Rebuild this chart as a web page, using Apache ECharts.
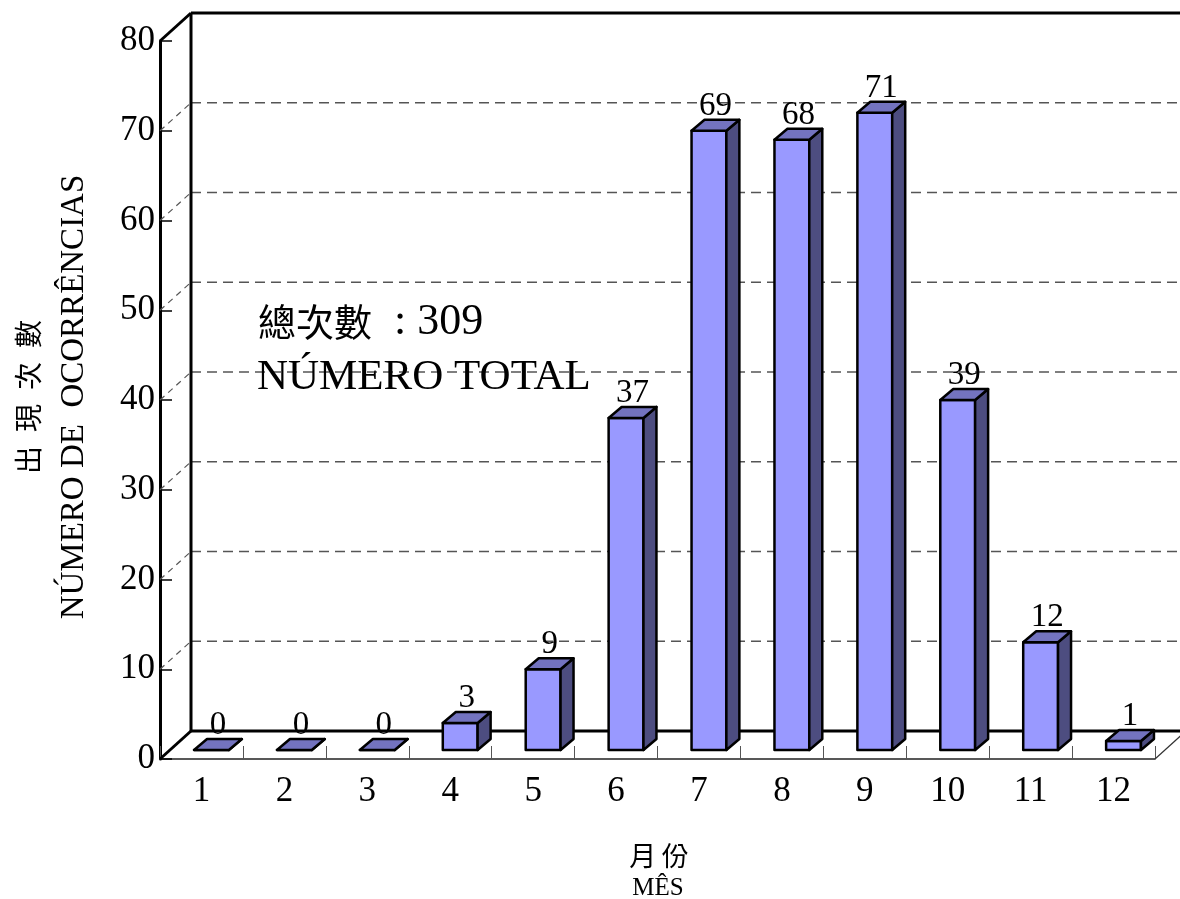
<!DOCTYPE html>
<html>
<head>
<meta charset="utf-8">
<style>
  html, body { margin: 0; padding: 0; background: #ffffff; }
  #chart { width: 1180px; height: 899px; }
</style>
<script src="https://cdn.jsdelivr.net/npm/echarts@6/dist/echarts.min.js"></script>
</head>
<body>
<div id="chart"></div>
<script>
// Monthly number of occurrences
const months = ['1', '2', '3', '4', '5', '6', '7', '8', '9', '10', '11', '12'];
const occurrences = [0, 0, 0, 3, 9, 37, 69, 68, 71, 39, 12, 1];
const gridTicks = [10, 20, 30, 40, 50, 60, 70];
const yMin = 0, yMax = 80, yStep = 10;
const totalCount = 309;

const SERIF = "'Liberation Serif', 'Times New Roman', 'Noto Sans CJK TC', serif";
const CJK = "'Noto Sans CJK TC', 'Noto Sans CJK SC', sans-serif";

// Pseudo-3D geometry (pixels): wall depth and bar placement inside it
const DEPTH = [31, -28];
const BAR_FRONT = [10, -9];
const BAR_DEPTH = [13, -11];

const FRONT = '#9999ff';
const TOP = '#7373bf';
const SIDE = '#4d4d80';

function line(x1, y1, x2, y2, style) {
  return { type: 'line', shape: { x1, y1, x2, y2 }, style: Object.assign({ fill: null }, style) };
}

// Back wall, side wall and floor of the box
function renderFrame(params, api) {
  const cs = params.coordSys;
  const x0 = cs.x, x1 = cs.x + cs.width;
  const [dx, dy] = DEPTH;
  const yAt = v => api.coord([0, v])[1];
  const children = [];
  const dash = { stroke: '#555', lineWidth: 1.5, lineDash: [10, 6] };
  const sideDash = { stroke: '#555', lineWidth: 1.2, lineDash: [6, 5] };
  const thick = { stroke: '#000', lineWidth: 3 };
  gridTicks.forEach(v => {
    const y = yAt(v);
    children.push(line(x0 + dx, y + dy, x1 + dx, y + dy, dash));
    children.push(line(x0, y, x0 + dx, y + dy, sideDash));
  });
  const y0 = yAt(yMin), yT = yAt(yMax);
  // back wall outline
  children.push(line(x0 + dx, yT + dy, x1 + dx, yT + dy, thick));
  children.push(line(x0 + dx, y0 + dy, x1 + dx, y0 + dy, thick));
  children.push(line(x0 + dx, yT + dy, x0 + dx, y0 + dy, thick));
  // side wall top edge and floor edges
  children.push(line(x0, yT, x0 + dx, yT + dy, thick));
  children.push(line(x0, y0, x0 + dx, y0 + dy, thick));
  children.push(line(x1, y0, x1 + dx, y0 + dy, { stroke: '#333', lineWidth: 1.2 }));
  return { type: 'group', children };
}

// One 3D bar per month with its value label
function renderBar(params, api) {
  const i = api.value(0), v = api.value(1);
  const base = api.coord([i, 0]);
  const top = api.coord([i, v]);
  const band = api.size([1, 0])[0];
  const w = band * 0.42;
  const [dx, dy] = BAR_DEPTH;
  const fx = base[0] + BAR_FRONT[0] - w / 2;
  const fy0 = base[1] + BAR_FRONT[1];
  const fy1 = top[1] + BAR_FRONT[1];
  const edge = { stroke: '#000', lineWidth: 2.5, lineJoin: 'round' };
  return {
    type: 'group',
    children: [
      { type: 'rect', shape: { x: fx, y: fy1, width: w, height: fy0 - fy1 },
        style: Object.assign({ fill: FRONT }, edge) },
      { type: 'polygon', shape: { points: [[fx + w, fy1], [fx + w + dx, fy1 + dy], [fx + w + dx, fy0 + dy], [fx + w, fy0]] },
        style: Object.assign({ fill: SIDE }, edge) },
      { type: 'polygon', shape: { points: [[fx, fy1], [fx + w, fy1], [fx + w + dx, fy1 + dy], [fx + dx, fy1 + dy]] },
        style: Object.assign({ fill: TOP }, edge) },
      { type: 'text', z2: 10,
        style: { text: String(v), x: fx + w / 2 + dx / 2, y: fy1 + dy + 3,
          align: 'center', verticalAlign: 'bottom',
          font: '33px ' + SERIF, fill: '#000' } }
    ]
  };
}

const chart = echarts.init(document.getElementById('chart'), null, { renderer: 'canvas' });

chart.setOption({
  backgroundColor: '#ffffff',
  animation: false,
  grid: { left: 160, top: 41, width: 995, height: 718 },
  xAxis: {
    type: 'category',
    data: months,
    axisLine: { show: true, lineStyle: { color: '#222', width: 1.5 } },
    axisTick: { show: true, inside: true, length: 13, lineStyle: { color: '#555', width: 1 } },
    axisLabel: { fontFamily: SERIF, fontSize: 35, color: '#000', margin: 15 },
    splitLine: { show: false }
  },
  yAxis: {
    type: 'value',
    min: yMin, max: yMax, interval: yStep,
    axisLine: { show: true, lineStyle: { color: '#000', width: 3 } },
    axisTick: { show: true, inside: true, length: 12, lineStyle: { color: '#000', width: 1.5 } },
    axisLabel: { fontFamily: SERIF, fontSize: 35, color: '#000', margin: 5 },
    splitLine: { show: false }
  },
  series: [
    { type: 'custom', name: 'frame', z: 1, silent: true, clip: false,
      data: [[0, 0]], renderItem: renderFrame },
    { type: 'custom', name: 'occurrences', z: 3, clip: false,
      data: occurrences.map((v, i) => [i, v]), renderItem: renderBar }
  ],
  graphic: [
    { type: 'text', left: 258, top: 300, z: 100,
      style: {
        text: '{c|總次數}{l|\u2002: ' + totalCount + '}',
        rich: {
          c: { font: '38px ' + CJK, fill: '#000' },
          l: { font: '44px ' + SERIF, fill: '#000' }
        }
      } },
    { type: 'text', left: 257, top: 356, z: 100,
      style: { text: 'NÚMERO TOTAL', font: '43px ' + SERIF, fill: '#000' } },
    { type: 'text', x: 28, y: 397, rotation: Math.PI / 2, z: 100,
      style: { text: '出\u2002現\u2002次\u2002數', font: '28px ' + CJK, fill: '#000', align: 'center', verticalAlign: 'middle' } },
    { type: 'text', x: 74, y: 397, rotation: Math.PI / 2, z: 100,
      style: { text: 'NÚMERO DE  OCORRÊNCIAS', font: '33px ' + SERIF, fill: '#000', align: 'center', verticalAlign: 'middle' } },
    { type: 'text', x: 659, y: 856, z: 100,
      style: { text: '月\u2009份', font: '27px ' + CJK, fill: '#000', align: 'center', verticalAlign: 'middle' } },
    { type: 'text', x: 658, y: 888, z: 100,
      style: { text: 'MÊS', font: '25px ' + SERIF, fill: '#000', align: 'center', verticalAlign: 'middle' } }
  ]
});
</script>
</body>
</html>
